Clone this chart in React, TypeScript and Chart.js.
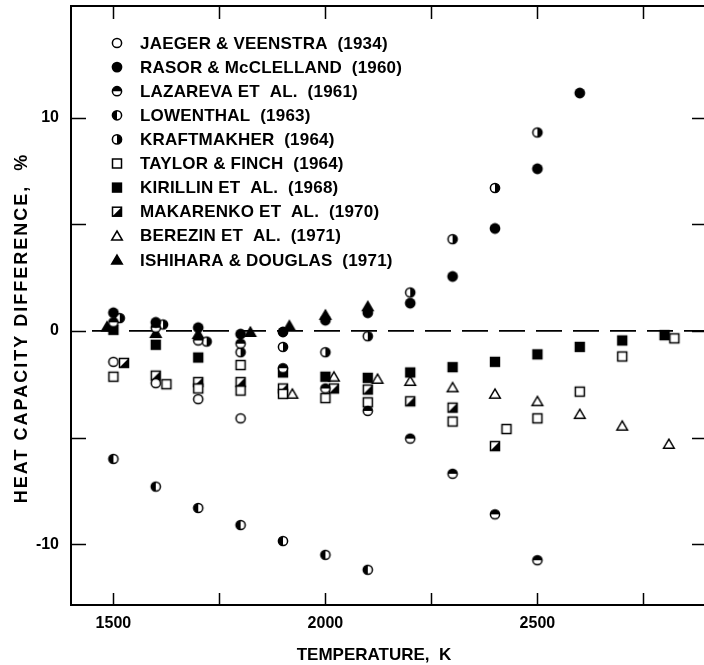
import React, { useEffect, useRef } from "react";
import { Chart, registerables } from "chart.js";

Chart.register(...registerables);

// ---------- data ----------
const jaegerT = [1500, 1600, 1700, 1800];
const jaegerV = [-1.45, -2.45, -3.2, -4.1];

const rasorT = [1500, 1600, 1700, 1800, 1900, 2000, 2100, 2200, 2300, 2400, 2500, 2600];
const rasorV = [0.85, 0.4, 0.15, -0.15, -0.05, 0.5, 0.85, 1.3, 2.55, 4.8, 7.6, 11.15];

const lazarevaT = [1500, 1600, 1700, 1800, 1900, 2000, 2100, 2200, 2300, 2400, 2500];
const lazarevaV = [0.4, 0.15, -0.45, -0.6, -1.75, -2.7, -3.75, -5.05, -6.7, -8.6, -10.75];

const lowenthalT = [1500, 1600, 1700, 1800, 1900, 2000, 2100];
const lowenthalV = [-6.0, -7.3, -8.3, -9.1, -9.85, -10.5, -11.2];

const kraftT = [1515, 1617, 1720, 1800, 1900, 2000, 2100, 2200, 2300, 2400, 2500];
const kraftV = [0.6, 0.3, -0.5, -1.0, -0.75, -1.0, -0.25, 1.8, 4.3, 6.7, 9.3];

const taylorT = [1500, 1625, 1700, 1800, 1800, 1900, 2000, 2100, 2300, 2427, 2500, 2600, 2700, 2823];
const taylorV = [-2.15, -2.5, -2.7, -1.6, -2.8, -2.95, -3.15, -3.35, -4.25, -4.6, -4.1, -2.85, -1.2, -0.35];

const kirillinT = [1500, 1600, 1700, 1900, 2000, 2100, 2200, 2300, 2400, 2500, 2600, 2700, 2800];
const kirillinV = [0.05, -0.65, -1.25, -1.95, -2.15, -2.2, -1.95, -1.7, -1.45, -1.1, -0.75, -0.45, -0.2];

const makarenkoT = [1525, 1600, 1700, 1800, 1900, 2020, 2100, 2200, 2300, 2400];
const makarenkoV = [-1.5, -2.1, -2.4, -2.4, -2.7, -2.7, -2.75, -3.3, -3.6, -5.4];

const berezinT = [1922, 2020, 2123, 2200, 2300, 2400, 2500, 2600, 2700, 2810];
const berezinV = [-2.95, -2.15, -2.25, -2.35, -2.65, -2.95, -3.3, -3.9, -4.45, -5.3];

const ishiharaT = [1485, 1600, 1700, 1823, 1915, 2000, 2100];
const ishiharaV = [0.2, -0.1, -0.15, -0.05, 0.25, 0.75, 1.15];

const seriesLabels = [
  "JAEGER & VEENSTRA  (1934)",
  "RASOR & McCLELLAND  (1960)",
  "LAZAREVA ET  AL.  (1961)",
  "LOWENTHAL  (1963)",
  "KRAFTMAKHER  (1964)",
  "TAYLOR & FINCH  (1964)",
  "KIRILLIN ET  AL.  (1968)",
  "MAKARENKO ET  AL.  (1970)",
  "BEREZIN ET  AL.  (1971)",
  "ISHIHARA & DOUGLAS  (1971)",
];

const xTickLabels = [1500, 2000, 2500];
const yTickLabels = [-10, 0, 10];
const xMinorTicks = [1500, 1750, 2000, 2250, 2500, 2750];
const yMinorTicks = [-10, -5, 0, 5, 10];

const X_MIN = 1400;
const X_MAX = 2900;
const Y_MIN = -12.85;
const Y_MAX = 15.23;

const xTitle = "TEMPERATURE,  K";
const yTitle = "HEAT CAPACITY DIFFERENCE,  %";

type Kind = "oc" | "fc" | "top" | "left" | "right" | "os" | "fs" | "hs" | "ot" | "ft";
const kinds: Kind[] = ["oc", "fc", "top", "left", "right", "os", "fs", "hs", "ot", "ft"];

const FONT = "'Liberation Sans', Arial, Helvetica, sans-serif";

function drawMarker(ctx: CanvasRenderingContext2D, kind: Kind, cx: number, cy: number) {
  const r = 4.6;
  const h = 4.5;
  ctx.save();
  ctx.lineWidth = 1.5;
  ctx.strokeStyle = "#000";
  ctx.fillStyle = "#000";
  const circ = () => {
    ctx.beginPath();
    ctx.arc(cx, cy, r, 0, Math.PI * 2);
  };
  const half = (a0: number, a1: number) => {
    circ();
    ctx.fillStyle = "#fff";
    ctx.fill();
    ctx.beginPath();
    ctx.arc(cx, cy, r, a0, a1);
    ctx.closePath();
    ctx.fillStyle = "#000";
    ctx.fill();
    circ();
    ctx.stroke();
  };
  const tri = () => {
    ctx.beginPath();
    ctx.moveTo(cx, cy - 4.8);
    ctx.lineTo(cx + 5.3, cy + 4.2);
    ctx.lineTo(cx - 5.3, cy + 4.2);
    ctx.closePath();
  };
  switch (kind) {
    case "oc":
      circ();
      ctx.fillStyle = "#fff";
      ctx.fill();
      ctx.stroke();
      break;
    case "fc":
      ctx.beginPath();
      ctx.arc(cx, cy, r + 0.8, 0, Math.PI * 2);
      ctx.fill();
      break;
    case "top":
      half(Math.PI, Math.PI * 2);
      break;
    case "left":
      half(Math.PI / 2, (Math.PI * 3) / 2);
      break;
    case "right":
      half(-Math.PI / 2, Math.PI / 2);
      break;
    case "os":
      ctx.fillStyle = "#fff";
      ctx.fillRect(cx - h, cy - h, 2 * h, 2 * h);
      ctx.strokeRect(cx - h, cy - h, 2 * h, 2 * h);
      break;
    case "fs":
      ctx.fillRect(cx - h - 0.7, cy - h - 0.7, 2 * h + 1.4, 2 * h + 1.4);
      break;
    case "hs":
      ctx.fillStyle = "#fff";
      ctx.fillRect(cx - h, cy - h, 2 * h, 2 * h);
      ctx.beginPath();
      ctx.moveTo(cx + h, cy - h);
      ctx.lineTo(cx + h, cy + h);
      ctx.lineTo(cx - h, cy + h);
      ctx.closePath();
      ctx.fillStyle = "#000";
      ctx.fill();
      ctx.strokeRect(cx - h, cy - h, 2 * h, 2 * h);
      break;
    case "ot":
      tri();
      ctx.fillStyle = "#fff";
      ctx.fill();
      ctx.stroke();
      break;
    case "ft":
      tri();
      ctx.fill();
      ctx.stroke();
      break;
  }
  ctx.restore();
}

function makeMarker(kind: Kind): HTMLCanvasElement {
  const c = document.createElement("canvas");
  c.width = 16;
  c.height = 16;
  const ctx = c.getContext("2d")!;
  drawMarker(ctx, kind, 8, 8);
  return c;
}

const framePlugin = {
  id: "framePlugin",
  beforeDatasetsDraw(chart: any) {
    const { ctx, chartArea: a, scales } = chart;
    const y0 = scales.y.getPixelForValue(0);
    ctx.save();
    ctx.strokeStyle = "#000";
    ctx.lineWidth = 1.6;
    ctx.setLineDash([26, 11]);
    ctx.beginPath();
    ctx.moveTo(a.left + 21, y0);
    ctx.lineTo(a.right, y0);
    ctx.stroke();
    ctx.restore();
  },
  afterDatasetsDraw(chart: any) {
    const { ctx, chartArea: a, scales } = chart;
    const xs = scales.x;
    const ys = scales.y;
    ctx.save();
    ctx.strokeStyle = "#000";
    ctx.lineWidth = 2;
    ctx.strokeRect(a.left, a.top, a.right - a.left, a.bottom - a.top);
    ctx.lineWidth = 1.5;
    ctx.beginPath();
    for (const v of yMinorTicks) {
      const py = Math.round(ys.getPixelForValue(v)) + 0.5;
      ctx.moveTo(a.left, py);
      ctx.lineTo(a.left + 15, py);
      ctx.moveTo(a.right, py);
      ctx.lineTo(a.right - 15, py);
    }
    for (const v of xMinorTicks) {
      const px = Math.round(xs.getPixelForValue(v)) + 0.5;
      ctx.moveTo(px, a.bottom);
      ctx.lineTo(px, a.bottom - 12);
      ctx.moveTo(px, a.top);
      ctx.lineTo(px, a.top + 13);
    }
    ctx.stroke();

    // legend
    ctx.fillStyle = "#000";
    ctx.font = `bold 17px ${FONT}`;
    (ctx as any).letterSpacing = "0.2px";
    ctx.textBaseline = "middle";
    ctx.textAlign = "left";
    seriesLabels.forEach((lab, i) => {
      const cy = 43 + i * 24.1;
      drawMarker(ctx, kinds[i], 117, cy);
      ctx.fillStyle = "#000";
      ctx.fillText(lab, 140, cy + 1);
    });

    // axis titles
    (ctx as any).letterSpacing = "0px";
    ctx.font = `bold 17px ${FONT}`;
    ctx.textAlign = "center";
    ctx.textBaseline = "middle";
    ctx.fillText(xTitle, 374, 655);
    ctx.save();
    ctx.translate(22, 328);
    ctx.rotate(-Math.PI / 2);
    ctx.font = `bold 18px ${FONT}`;
    (ctx as any).letterSpacing = "2px";
    ctx.fillText(yTitle, 0, 0);
    ctx.restore();
    ctx.restore();
  },
};

export default function App() {
  const ref = useRef<HTMLCanvasElement | null>(null);

  useEffect(() => {
    if (!ref.current) return;
    const allT = [jaegerT, rasorT, lazarevaT, lowenthalT, kraftT, taylorT, kirillinT, makarenkoT, berezinT, ishiharaT];
    const allV = [jaegerV, rasorV, lazarevaV, lowenthalV, kraftV, taylorV, kirillinV, makarenkoV, berezinV, ishiharaV];
    const datasets = allT.map((ts, i) => {
      const img = makeMarker(kinds[i]);
      return {
        label: seriesLabels[i],
        data: ts.map((t, j) => ({ x: t, y: allV[i][j] })),
        pointStyle: img,
        pointRadius: 5,
        pointHoverRadius: 5,
        showLine: false,
        clip: false as any,
      };
    });

    const chart = new Chart(ref.current, {
      type: "scatter",
      data: { datasets },
      options: {
        animation: false,
        responsive: false,
        devicePixelRatio: 1,
        layout: { padding: { top: 4, right: 13, left: 0, bottom: 0 } },
        plugins: { legend: { display: false }, tooltip: { enabled: false } },
        events: [],
        scales: {
          x: {
            type: "linear",
            min: X_MIN,
            max: X_MAX,
            grid: { display: false, drawTicks: false },
            border: { display: false },
            afterBuildTicks: (s: any) => {
              s.ticks = xTickLabels.map((v) => ({ value: v }));
            },
            afterFit: (s: any) => {
              s.height = 60;
              s.paddingLeft = 0;
              s.paddingRight = 0;
            },
            ticks: {
              autoSkip: false,
              maxRotation: 0,
              padding: 9,
              color: "#000",
              font: { family: FONT, weight: "bold", size: 16 },
              callback: (v: any) => String(v),
            },
          },
          y: {
            type: "linear",
            min: Y_MIN,
            max: Y_MAX,
            grid: { display: false, drawTicks: false },
            border: { display: false },
            afterBuildTicks: (s: any) => {
              s.ticks = yTickLabels.map((v) => ({ value: v }));
            },
            afterFit: (s: any) => {
              s.width = 71;
              s.paddingTop = 0;
              s.paddingBottom = 0;
            },
            ticks: {
              autoSkip: false,
              padding: 12,
              color: "#000",
              font: { family: FONT, weight: "bold", size: 16 },
              callback: (v: any) => String(v),
            },
          },
        },
      } as any,
      plugins: [framePlugin],
    });
    return () => chart.destroy();
  }, []);

  return (
    <div
      style={{
        position: "fixed",
        left: 0,
        top: 0,
        width: 704,
        height: 665,
        overflow: "hidden",
        background: "#fff",
      }}
    >
      <canvas ref={ref} width={720} height={665} style={{ display: "block", width: 720, height: 665 }} />
    </div>
  );
}
